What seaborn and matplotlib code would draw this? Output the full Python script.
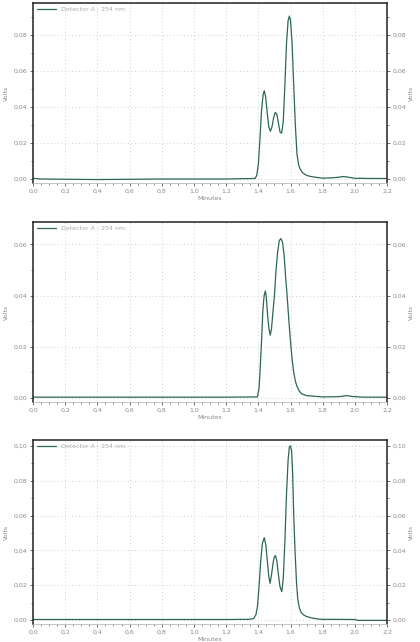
import numpy as np
import pandas as pd
import matplotlib
matplotlib.use("Agg")
import matplotlib.pyplot as plt
from matplotlib.ticker import FixedLocator, MultipleLocator, FixedFormatter
import seaborn as sns

# ---------------- data ----------------
legend_label = "Detector A - 254 nm"

t1 = [0.00, 0.05, 0.40, 0.80, 1.20, 1.38, 1.39, 1.40, 1.41, 1.42, 1.43, 1.437, 1.445,
      1.455, 1.465, 1.475, 1.485, 1.495, 1.505, 1.515, 1.525, 1.535, 1.545, 1.555,
      1.565, 1.575, 1.585, 1.593, 1.600, 1.610, 1.620, 1.630, 1.640, 1.650, 1.660,
      1.675, 1.700, 1.730, 1.770, 1.800, 1.850, 1.900, 1.930, 1.960, 2.000, 2.100, 2.200]
v1 = [0.0004, 0.0000, -0.0003, 0.0000, 0.0000, 0.0003, 0.002, 0.008, 0.022, 0.038, 0.047,
      0.049, 0.046, 0.037, 0.029, 0.0265, 0.029, 0.034, 0.037, 0.036, 0.031, 0.026,
      0.0255, 0.032, 0.052, 0.075, 0.088, 0.0905, 0.088, 0.075, 0.052, 0.030, 0.014,
      0.008, 0.0055, 0.0035, 0.002, 0.0013, 0.0008, 0.0005, 0.0006, 0.0010, 0.0014,
      0.0010, 0.0004, 0.0003, 0.0003]

t2 = [0.00, 0.40, 0.80, 1.20, 1.395, 1.405, 1.412, 1.420, 1.428, 1.436, 1.444, 1.450,
      1.458, 1.466, 1.474, 1.482, 1.490, 1.500, 1.510, 1.520, 1.530, 1.540, 1.550,
      1.560, 1.570, 1.580, 1.590, 1.600, 1.610, 1.620, 1.630, 1.640, 1.655, 1.670,
      1.700, 1.800, 1.900, 1.950, 1.980, 2.050, 2.200]
v2 = [0.0002, 0.0002, 0.0002, 0.0002, 0.0003, 0.004, 0.012, 0.022, 0.034, 0.040, 0.0418,
      0.039, 0.032, 0.027, 0.0245, 0.027, 0.033, 0.040, 0.050, 0.057, 0.0615, 0.0623,
      0.061, 0.056, 0.047, 0.039, 0.030, 0.022, 0.015, 0.010, 0.0065, 0.0045, 0.0025,
      0.0015, 0.0008, 0.0003, 0.0004, 0.0008, 0.0005, 0.0002, 0.0002]

t3 = [0.00, 0.40, 0.80, 1.20, 1.34, 1.37, 1.385, 1.395, 1.405, 1.415, 1.425, 1.437, 1.447,
      1.457, 1.465, 1.473, 1.482, 1.492, 1.500, 1.507, 1.515, 1.525, 1.535, 1.546,
      1.555, 1.565, 1.575, 1.585, 1.593, 1.600, 1.607, 1.613, 1.620, 1.628, 1.637,
      1.645, 1.655, 1.665, 1.680, 1.700, 1.740, 1.780, 1.800, 2.000, 2.020, 2.200]
v3 = [0.0003, 0.0003, 0.0003, 0.0003, 0.0004, 0.0008, 0.003, 0.008, 0.020, 0.034, 0.044,
      0.0473, 0.043, 0.033, 0.025, 0.0211, 0.026, 0.033, 0.0365, 0.037, 0.034, 0.026,
      0.019, 0.0163, 0.024, 0.045, 0.072, 0.092, 0.0995, 0.100, 0.097, 0.085, 0.060,
      0.040, 0.022, 0.012, 0.007, 0.0045, 0.003, 0.002, 0.001, 0.0005, 0.0004, 0.0003,
      -0.0002, -0.0002]

x_ticks = [0.0, 0.2, 0.4, 0.6, 0.8, 1.0, 1.2, 1.4, 1.6, 1.8, 2.0, 2.2]
y_ticks1 = [0.00, 0.02, 0.04, 0.06, 0.08]
y_ticks2 = [0.00, 0.02, 0.04, 0.06]
y_ticks3 = [0.00, 0.02, 0.04, 0.06, 0.08, 0.10]

x_label = "Minutes"
y_label = "Volts"

# ---------------- styling ----------------
sns.set_theme(style="white")
plt.rcParams['font.family'] = ['DejaVu Sans']

line_color = "#2d6656"
text_color = "#8a8a8a"
grid_color = "#cccccc"

fig = plt.figure(figsize=(4.2, 6.42), dpi=100)

panels = [
    (t1, v1, y_ticks1, (-0.0022, 0.0978), [0.0786, 0.715, 0.843, 0.2804]),
    (t2, v2, y_ticks2, (-0.0017, 0.0688), [0.0786, 0.3738, 0.843, 0.2804]),
    (t3, v3, y_ticks3, (-0.0023, 0.1034), [0.0786, 0.0280, 0.843, 0.2866]),
]

def fmt(v, nd):
    return f"{v:.{nd}f}".replace(".", ",")

for t, v, yt, ylim, pos in panels:
    ax = fig.add_axes(pos)
    df = pd.DataFrame({"Minutes": t, "Volts": v})
    sns.lineplot(data=df, x="Minutes", y="Volts", ax=ax, color=line_color,
                 linewidth=0.9, sort=False, estimator=None, label=legend_label)
    ax.set_xlim(x_ticks[0], x_ticks[-1])
    ax.set_ylim(*ylim)
    ax.xaxis.set_major_locator(FixedLocator(x_ticks))
    ax.xaxis.set_major_formatter(FixedFormatter([fmt(x, 1) for x in x_ticks]))
    ax.xaxis.set_minor_locator(MultipleLocator(0.05))
    ax.yaxis.set_major_locator(FixedLocator(yt))
    ax.yaxis.set_major_formatter(FixedFormatter([fmt(y, 2) for y in yt]))
    ax.yaxis.set_minor_locator(MultipleLocator(0.01))
    ax.grid(True, which="major", linestyle=(0, (1.2, 3.0)), color=grid_color, linewidth=0.6)
    ax.tick_params(axis="both", which="both", colors="#555555", labelcolor=text_color,
                   labelsize=4.5, direction="out", pad=1.5)
    ax.tick_params(axis="both", which="major", length=2.5, width=0.6)
    ax.tick_params(axis="both", which="minor", length=1.3, width=0.5)
    ax.tick_params(axis="y", which="both", left=True, right=True,
                   labelleft=True, labelright=True)
    ax.tick_params(axis="x", which="both", bottom=True, top=False)
    ax.set_xlabel(x_label, fontsize=4.5, color=text_color, labelpad=2)
    ax.set_ylabel(y_label, fontsize=4.5, color=text_color)
    ax.yaxis.set_label_coords(-0.068, 0.5)
    ax.text(1.068, 0.5, y_label, transform=ax.transAxes, rotation=90,
            fontsize=4.5, color=text_color, ha="center", va="center")
    for side in ["top", "left", "right"]:
        ax.spines[side].set_color("#222222")
        ax.spines[side].set_linewidth(1.1)
    ax.spines["bottom"].set_color("#bbbbbb")
    ax.spines["bottom"].set_linewidth(0.6)
    leg = ax.legend(loc="upper left", frameon=False, fontsize=4.5,
                    handlelength=3, borderaxespad=0.2, handletextpad=0.8)
    for txt in leg.get_texts():
        txt.set_color("#aaaaaa")

fig.savefig("out.png", dpi=100)
